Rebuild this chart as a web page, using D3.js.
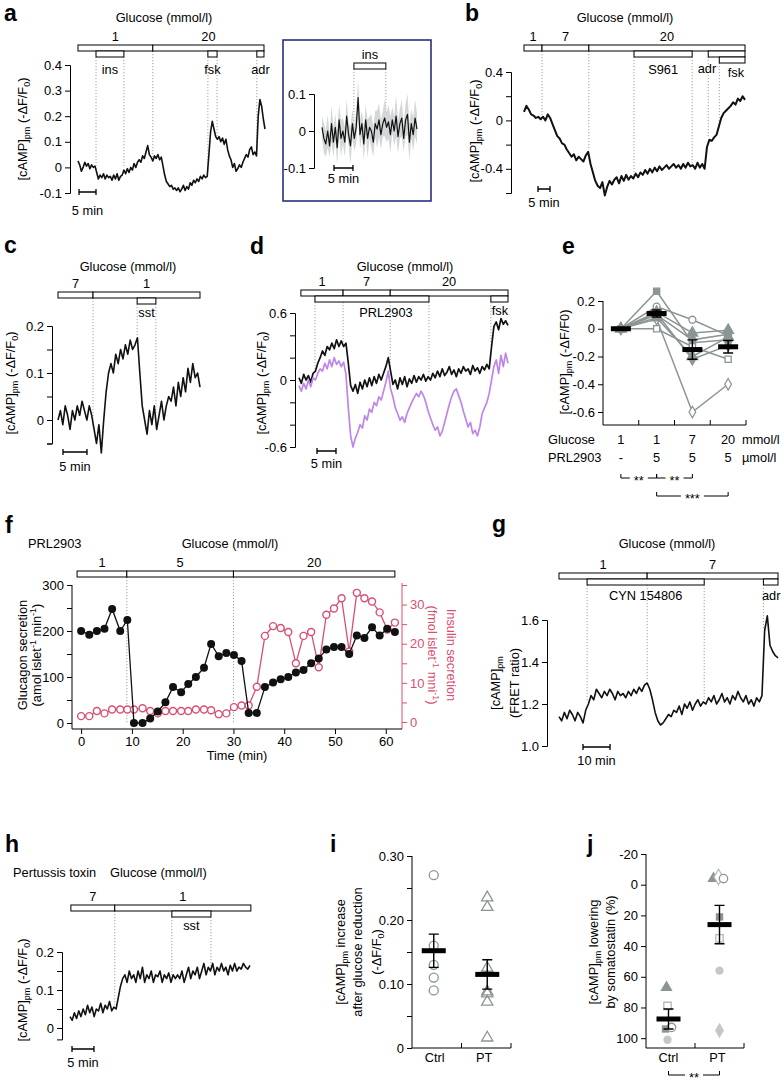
<!DOCTYPE html>
<html><head><meta charset="utf-8">
<script src="https://cdn.jsdelivr.net/npm/d3@7"></script>
<style>body{margin:0;background:#fff}</style>
</head><body>
<script>
// ================= DATA =================
// Panel a: [cAMP]pm trace, 0..55 min
const aTrace = [0.025,0.01,-0.015,0.0,0.02,0.005,0.015,-0.005,0.01,0.0,0.005,
-0.02,-0.045,-0.03,-0.04,-0.025,-0.045,-0.03,-0.04,-0.035,-0.05,-0.03,-0.045,-0.025,-0.05,-0.035,-0.03,
-0.01,-0.025,-0.005,-0.02,0.0,-0.01,0.015,0.0,0.02,0.03,
0.02,0.045,0.035,0.06,0.085,0.05,0.04,0.025,0.045,0.035,0.05,0.03,0.04,
0.005,-0.03,-0.055,-0.065,-0.075,-0.07,-0.085,-0.08,-0.09,-0.08,-0.095,-0.085,-0.07,-0.09,-0.075,-0.085,
-0.06,-0.07,-0.05,-0.06,-0.045,-0.055,-0.035,-0.045,-0.03,-0.04,-0.035,
0.05,0.14,0.18,0.15,0.12,0.11,0.12,0.1,0.115,0.09,0.11,0.07,
0.045,0.03,0.0,0.015,-0.015,-0.005,0.01,0.0,0.02,0.035,0.05,0.04,0.07,0.08,0.05,0.06,0.045,
0.2,0.265,0.24,0.19,0.15];
const aGlucose = [{label:"1",from:0,to:22},{label:"20",from:22,to:54.7}];
const aDrugs = [{label:"ins",from:5.3,to:13.5},{label:"fsk",from:38.2,to:40.9},{label:"adr",from:52.6,to:54.7}];
const aTicks = [-0.1,0,0.1,0.2,0.3,0.4];

// Inset: mean trace and SEM, 0..25 min
const insetMean = [0.01,-0.02,-0.035,0.0,-0.04,0.02,-0.03,0.01,-0.045,0.03,-0.02,0.0,-0.03,0.04,-0.01,-0.04,0.02,-0.02,0.01,0.09,-0.01,0.02,-0.035,0.03,-0.02,0.01,0.0,-0.03,0.02,0.005,0.03,-0.01,0.02,0.035,0.01,0.025,-0.01,0.03,0.0,0.04,-0.015,0.02,0.035,-0.02,0.03,0.045,-0.03,0.02,-0.01,0.035,0.005];
const insetSem = [0.03,0.04,0.035,0.045,0.03,0.05,0.04,0.035,0.045,0.04,0.05,0.035,0.04,0.045,0.03,0.05,0.04,0.035,0.045,0.05,0.04,0.035,0.045,0.04,0.05,0.03,0.045,0.04,0.035,0.05,0.045,0.04,0.035,0.05,0.04,0.045,0.05,0.035,0.04,0.055,0.045,0.04,0.05,0.035,0.045,0.055,0.05,0.04,0.045,0.05,0.04];
const insetDrugs = [{label:"ins",from:8.4,to:16.8}];
const insetTicks = [-0.1,0,0.1];

// Panel b: 0..92 min
const bTrace = [0.07,0.12,0.09,0.05,0.04,0.02,0.03,0.01,0.03,
0.0,0.05,0.02,-0.03,
-0.08,-0.13,-0.15,-0.19,-0.2,-0.24,
-0.27,-0.3,-0.28,-0.33,-0.3,-0.32,-0.34,-0.29,-0.26,
-0.36,-0.43,-0.5,-0.54,-0.56,
-0.51,-0.62,-0.55,-0.5,-0.53,
-0.49,-0.47,-0.52,-0.46,-0.5,-0.45,-0.49,-0.46,-0.48,
-0.44,-0.47,-0.43,-0.45,-0.41,-0.44,-0.4,-0.43,-0.39,-0.42,-0.38,-0.41,-0.39,-0.37,-0.4,-0.38,-0.36,-0.39,-0.37,-0.4,-0.36,-0.39,-0.35,-0.38,
-0.37,-0.4,-0.35,-0.39,-0.36,-0.4,
-0.22,-0.16,-0.17,-0.14,
-0.12,-0.05,0.02,0.06,0.08,0.1,
0.12,0.15,0.13,0.18,0.16,0.2,0.17];
const bGlucose = [{label:"1",from:0,to:7.5},{label:"7",from:7.5,to:27},{label:"20",from:27,to:92}];
const bDrugs = [{label:"S961",from:45.8,to:70,row:1},{label:"adr",from:76.7,to:92,row:1},{label:"fsk",from:81.3,to:92,row:2}];
const bTicks = [-0.6,-0.4,-0.2,0,0.2,0.4];
const bTickLabels = [-0.4,0,0.4];

// Panel c: 0..29.6 min
const cTrace = [0.0,0.02,-0.01,0.03,0.01,-0.02,0.02,0.0,0.03,0.01,0.04,0.02,0.0,0.03,0.01,
-0.02,-0.05,-0.01,-0.07,0.0,
0.06,0.1,0.12,0.1,0.14,0.12,0.15,0.13,0.16,0.14,0.17,0.15,0.16,0.175,
0.1,0.03,
0.0,-0.03,0.02,-0.01,0.03,-0.02,0.01,0.04,0.0,0.03,0.05,
0.04,0.07,0.03,0.08,0.05,0.09,0.06,0.11,0.08,0.12,0.09,0.1,0.07];
const cGlucose = [{label:"7",from:0,to:7.3},{label:"1",from:7.3,to:29.6}];
const cDrugs = [{label:"sst",from:16.5,to:20.4}];
const cTicks = [-0.05,0,0.05,0.1,0.15,0.2];
const cTickLabels = [0,0.1,0.2];

// Panel d: 0..55 min (black and purple cells)
const dBlack = [0.02,-0.03,0.05,0.0,0.04,-0.02,0.06,
0.08,0.15,0.2,0.26,0.22,0.3,0.27,0.33,0.28,0.36,0.3,0.35,
0.3,0.33,0.15,-0.05,
-0.1,-0.04,-0.12,-0.02,-0.08,0.0,-0.06,0.02,-0.05,0.03,-0.03,0.05,0.0,0.06,
0.12,0.2,0.08,
-0.04,0.0,-0.08,0.02,-0.04,0.03,-0.06,0.01,-0.03,0.04,-0.02,0.03,0.0,0.05,-0.01,0.03,
0.0,0.06,0.02,0.08,0.03,0.1,0.04,0.07,0.12,0.05,0.09,0.03,0.1,0.06,0.12,0.08,0.1,0.05,0.13,0.08,0.11,0.06,0.12,0.09,0.14,0.1,
0.3,0.48,0.52,0.45,0.55,0.5,0.53,0.49];
const dPurple = [-0.05,-0.1,-0.03,-0.08,0.0,-0.06,0.02,
0.0,0.06,0.1,0.08,0.15,0.1,0.18,0.12,0.2,0.14,0.17,0.12,
0.16,0.05,-0.25,-0.5,
-0.6,-0.52,-0.47,-0.4,-0.43,-0.32,-0.36,-0.26,-0.29,-0.2,-0.23,-0.15,-0.18,-0.1,
-0.02,0.08,-0.08,
-0.15,-0.25,-0.3,-0.36,-0.33,-0.38,
-0.3,-0.25,-0.2,-0.16,-0.12,-0.15,
-0.1,-0.14,-0.2,-0.28,
-0.34,-0.4,-0.45,-0.42,-0.5,-0.46,
-0.38,-0.3,-0.22,-0.15,-0.1,-0.08,
-0.14,-0.2,-0.28,-0.35,-0.42,-0.38,-0.48,-0.45,
-0.5,-0.42,-0.3,-0.25,-0.2,-0.12,
0.0,0.12,0.18,0.06,0.22,0.12,0.24,0.15];
const dGlucose = [{label:"1",from:0.5,to:11.6},{label:"7",from:11.6,to:24},{label:"20",from:24,to:55}];
const dDrugs = [{label:"PRL2903",from:4.2,to:34.2},{label:"fsk",from:50.5,to:55}];
const dTicks = [-0.6,-0.4,-0.2,0,0.2,0.4,0.6];
const dTickLabels = [-0.6,0,0.6];

// Panel e
const eGlucose = ["1","1","7","20"];
const ePRL = ["-","5","5","5"];
const eCells = [
  [0,0.27,-0.1,-0.08],
  [0,0.16,0.065,-0.05],
  [0,0.0,-0.13,-0.22],
  [0,0.07,-0.6,-0.4],
  [0,0.12,-0.03,-0.01],
  [0,0.1,-0.08,-0.04],
  [0,0.08,-0.2,-0.06],
  [0,0.11,-0.22,-0.12]
];
const eMarkers = [["square",true],["circle",false],["square",false],["diamond",false],["triangle",true],["circle",true],["triangle",true],["diamond",true]];
const eMean = [0,0.11,-0.15,-0.13];
const eSem = [0,0.025,0.07,0.045];
const eTicks = [0.2,0,-0.2,-0.4,-0.6];

// Panel f
const fTime = [0,1.6,3.1,4.6,6.1,7.7,9.1,10.4,12.1,13.6,15.1,16.6,18.1,19.7,21.1,22.6,24.2,25.6,27.1,28.6,30.1,31.6,33.0,34.6,36.2,37.8,39.3,40.8,42.3,43.8,45.3,46.8,48.3,49.8,51.3,52.8,54.3,55.8,57.3,58.8,60.3,61.8];
const fGlucagon = [200,192,200,205,248,200,224,0,0,10,25,45,78,67,85,100,120,172,145,152,148,135,22,22,78,88,95,100,110,115,130,140,160,165,165,150,190,185,208,190,205,198];
const fInsulin = [1.5,1.5,2.8,2.2,3.2,3.2,3.2,3.2,3.5,2.8,2.2,2.8,2.8,2.8,2.8,3.2,3.2,3.0,2.0,2.2,3.8,4.2,4.2,9,22,24.5,24,23,15,22,23,14,27.4,29,31.6,18,33,31.6,30.8,28,23.6,25.4];
const fGlucose = [{label:"1",from:-0.8,to:9},{label:"5",from:9,to:30},{label:"20",from:30,to:61.8}];
const fXTicks = [0,10,20,30,40,50,60];
const fYTicks = [0,50,100,150,200,250,300];
const fY2Ticks = [0,5,10,15,20,25,30,35];

// Panel g: 0..81 min, FRET ratio
const gTrace = [1.14,1.12,1.16,1.13,1.17,1.15,1.12,1.16,1.14,1.11,1.17,
1.2,1.24,1.22,1.27,
1.25,1.23,1.26,1.24,1.27,1.25,1.22,1.26,1.24,1.25,1.23,1.26,1.24,1.27,1.25,1.28,1.26,1.29,
1.3,1.27,1.22,
1.16,1.12,1.1,1.11,1.13,
1.15,1.14,1.17,1.16,1.19,1.15,1.2,1.18,1.21,1.17,1.2,1.22,1.19,1.21,
1.2,1.23,1.21,1.24,1.2,1.22,1.25,1.21,1.23,1.2,1.24,1.22,1.26,1.23,1.21,1.24,1.2,1.22,1.19,1.23,1.21,1.24,
1.55,1.62,1.48,1.45,1.43,1.42];
const gGlucose = [{label:"1",from:0,to:32.6},{label:"7",from:32.6,to:81}];
const gDrugs = [{label:"CYN 154806",from:10.4,to:53.7},{label:"adr",from:75.6,to:81}];
const gTicks = [1.0,1.2,1.4,1.6];

// Panel h: 0..41 min
const hTrace = [0.03,0.02,0.04,0.025,0.045,0.03,0.05,0.035,0.06,0.04,0.055,0.03,0.05,0.045,0.065,0.04,0.06,0.05,0.07,0.045,0.055,
0.05,0.08,0.11,0.13,
0.14,0.12,0.15,0.13,0.14,0.12,0.15,0.13,0.16,0.12,0.14,0.13,0.15,0.12,0.14,0.135,0.15,0.12,0.14,0.13,0.145,0.12,0.14,0.13,
0.14,0.13,0.15,0.12,0.14,0.16,0.13,0.15,0.14,0.16,0.13,0.15,0.17,0.14,0.16,0.15,0.17,0.14,0.16,0.15,0.17,0.15,0.16,0.14,0.165,0.15,0.17,0.15,0.16,0.155,0.17,0.16,0.155,0.165];
const hGlucose = [{label:"7",from:0.2,to:10.2},{label:"1",from:10.2,to:41.2}];
const hDrugs = [{label:"sst",from:23.2,to:32.1}];
const hTicks = [0,0.05,0.1,0.15,0.2];
const hTickLabels = [0,0.1,0.2];

// Panel i
const iGroups = ["Ctrl","PT"];
const iCtrl = [0.27,0.16,0.13,0.11,0.09];
const iPT = [0.235,0.22,0.125,0.088,0.085,0.072,0.016];
const iMean = [0.152,0.115];
const iSem = [0.026,0.023];
const iTicks = [0,0.05,0.1,0.15,0.2,0.25,0.3];

// Panel j
const jGroups = ["Ctrl","PT"];
const jCtrl = [67,79,94,93,101];
const jPT = [-4,-5,-4,21,35,56,95];
const jMean = [87.5,26];
const jSem = [6.5,12.5];
const jTicks = [-20,0,20,40,60,80,100];

// ================= STYLE / HELPERS =================
const GREY = "#8c9595", LGREY = "#c3c9c9", MGREY = "#b4baba";
const PINK = "#d84f72", PURPLE = "#bf86ea";
const FS = 12.8, TICKFS = 13;
const SYM = {circle:d3.symbolCircle, square:d3.symbolSquare, triangle:d3.symbolTriangle, diamond:d3.symbolDiamond};

const svg = d3.select("body").append("svg").attr("width",784).attr("height",1090)
  .attr("font-family","'Liberation Sans', Arial, Helvetica, sans-serif").attr("font-size",FS);

function txt(g,x,y,s,anchor="middle",extra={}) {
  const t = g.append("text").attr("x",x).attr("y",y).attr("text-anchor",anchor).attr("fill",extra.fill||"#000").text(s);
  if (extra.size) t.attr("font-size",extra.size);
  if (extra.weight) t.attr("font-weight",extra.weight);
  return t;
}
function letter(s,x,y){ txt(svg,x,y,s,"start",{size:23,weight:"bold"}); }
function rich(g,x,y,parts,rot=-90,color="#000",anchor="middle") {
  const t = g.append("text").attr("transform",`translate(${x},${y}) rotate(${rot})`).attr("text-anchor",anchor).attr("fill",color);
  let shift = 0;
  parts.forEach(([s,k]) => {
    const target = k==="sub" ? 3 : k==="sup" ? -5 : 0;
    const ts = t.append("tspan").text(s).attr("dy",target-shift);
    if (k) ts.attr("font-size",9);
    shift = target;
  });
}
const CAMP = [["[cAMP]"],["pm","sub"],[" (-ΔF/F"],["0","sub"],[")"]];
function styleAxis(ag,color="#000"){
  ag.attr("font-family",null).attr("font-size",null);
  ag.selectAll("text").attr("fill",color).attr("font-size",TICKFS);
  ag.selectAll("path,line").attr("stroke",color);
}
const fmtNum = d => Math.abs(d)<1e-9 ? "0" : String(+d.toFixed(2));
function bracket(g,x1,x2,y,label){
  const w = label.length*5+8, cx=(x1+x2)/2;
  g.append("path").attr("d",`M${x1},${y-4}V${y}H${cx-w/2}M${cx+w/2},${y}H${x2}V${y-4}`)
    .attr("fill","none").attr("stroke","#000").attr("stroke-width",1);
  txt(g,cx,y+7,label);
}

function tracePanel(c){
  const g = svg.append("g");
  const x = d3.scaleLinear().domain([0,c.dur]).range(c.xr);
  const y = d3.scaleLinear().domain(c.yd).range(c.yr);
  const rowY = r => c.barTop + r*6;
  c.marks.forEach(t => {
    const v = d3.max(c.series, s => s.values[Math.round(t/c.dur*(s.values.length-1))] + (s.sem ? s.sem[Math.round(t/c.dur*(s.sem.length-1))] : 0));
    g.append("line").attr("x1",x(t)).attr("x2",x(t)).attr("y1",rowY(0)+6).attr("y2",y(v)-2)
      .attr("stroke","#888").attr("stroke-width",0.8).attr("stroke-dasharray","1.2,1.8");
  });
  c.bars.forEach(b => {
    g.append("rect").attr("x",x(b.from)).attr("y",rowY(b.row)).attr("width",x(b.to)-x(b.from)).attr("height",6)
      .attr("fill","#fff").attr("stroke","#000").attr("stroke-width",1);
    const p = (c.labelPos && c.labelPos[b.label]) || {};
    const lx = p.x!==undefined ? p.x : (x(b.from)+x(b.to))/2;
    const ly = p.y!==undefined ? p.y : (b.row===0 ? rowY(0)-4 : rowY(b.row)+6+c.labelDy);
    txt(g,lx,ly,b.label,p.anchor||"middle");
  });
  if (c.title) txt(g,c.title[0],c.title[1],"Glucose (mmol/l)");
  const ax = d3.axisLeft(y).tickValues(c.ticks).tickSize(5).tickSizeOuter(5).tickPadding(3)
    .tickFormat(d => c.labeled.some(l=>Math.abs(l-d)<1e-9) ? (c.fmt||fmtNum)(d) : "");
  styleAxis(g.append("g").attr("transform",`translate(${c.axisX},0)`).call(ax));
  c.series.forEach(s => {
    const n = s.values.length, tt = i => i*c.dur/(n-1);
    if (s.sem) {
      g.append("path").datum(s.values).attr("fill","#d3d7d7")
        .attr("d", d3.area().x((d,i)=>x(tt(i))).y0((d,i)=>y(d-s.sem[Math.min(i,s.sem.length-1)])).y1((d,i)=>y(d+s.sem[Math.min(i,s.sem.length-1)])));
    }
    g.append("path").datum(s.values).attr("fill","none").attr("stroke",s.color).attr("stroke-width",s.width||1.6)
      .attr("stroke-linejoin","round").attr("d", d3.line().x((d,i)=>x(tt(i))).y(d=>y(d)));
  });
  const sb = c.scaleBar, len = x(sb.min)-x(0);
  g.append("path").attr("d",`M${sb.x},${sb.y-3}V${sb.y+3}M${sb.x},${sb.y}H${sb.x+len}M${sb.x+len},${sb.y-3}V${sb.y+3}`)
    .attr("stroke","#000").attr("stroke-width",1.3).attr("fill","none");
  txt(g,sb.x+len/2,sb.ty,sb.min+" min");
  (c.ylab||[]).forEach(l => rich(g,l[0],l[1],l[2]));
  return g;
}
const withRow = (arr,row) => arr.map(d => Object.assign({row:d.row!==undefined?d.row:row},d));

// ================= PANEL a =================
letter("a",4,21);
tracePanel({xr:[78,265],dur:55,yd:[-0.1,0.4],yr:[193,65],axisX:70,ticks:aTicks,labeled:aTicks,
  barTop:45,bars:[...withRow(aGlucose,0),...withRow(aDrugs,1)],labelDy:17,title:[164,22],
  marks:[5.3,13.5,22,38.2,40.9,52.6],series:[{values:aTrace,color:"#111"}],
  scaleBar:{x:79,y:192,min:5,ty:215},ylab:[[27,129,CAMP]]});

// ================= INSET =================
svg.append("rect").attr("x",283).attr("y",40).attr("width",148).attr("height",161)
  .attr("fill","none").attr("stroke","#2b2e83").attr("stroke-width",1.6);
tracePanel({xr:[322,417],dur:25,yd:[-0.1,0.1],yr:[168,94],axisX:314,ticks:insetTicks,labeled:insetTicks,
  barTop:63,bars:withRow(insetDrugs,0),labelDy:15,
  marks:[8.4,16.8],series:[{values:insetMean,sem:insetSem,color:"#111",width:1.2}],
  scaleBar:{x:334,y:168,min:5,ty:183}});

// ================= PANEL b =================
letter("b",465,21);
tracePanel({xr:[524,745],dur:92,yd:[-0.6,0.4],yr:[193,72],axisX:511,ticks:bTicks,labeled:bTickLabels,
  barTop:45,bars:[...withRow(bGlucose,0),...withRow(bDrugs,1)],labelDy:17,title:[625,22],
  labelPos:{"adr":{x:707,y:73},"fsk":{x:736,y:77}},
  marks:[7.5,27,45.8,70,76.7,81.3],series:[{values:bTrace,color:"#111",width:2}],
  scaleBar:{x:538,y:189,min:5,ty:207},ylab:[[479,131,CAMP]]});

// ================= PANEL c =================
letter("c",4,253);
tracePanel({xr:[58,200],dur:29.6,yd:[-0.05,0.2],yr:[443.5,326],axisX:52,ticks:cTicks,labeled:cTickLabels,
  barTop:292,bars:[...withRow(cGlucose,0),...withRow(cDrugs,1)],labelDy:13,title:[128,271],
  marks:[7.3,16.5,20.4],series:[{values:cTrace,color:"#111"}],
  scaleBar:{x:63,y:452,min:5,ty:471},ylab:[[15,383,CAMP]]});

// ================= PANEL d =================
letter("d",250,254);
tracePanel({xr:[299,508],dur:55,yd:[-0.6,0.6],yr:[447,313],axisX:295,ticks:dTicks,labeled:dTickLabels,
  barTop:290,bars:[...withRow(dGlucose,0),...withRow(dDrugs,1)],labelDy:15,title:[405,271],
  labelPos:{"PRL2903":{x:386},"fsk":{x:500,y:315}},
  marks:[4.2,11.6,24,34.2,50.5],series:[{values:dBlack,color:"#111",width:1.7},{values:dPurple,color:PURPLE,width:1.7}],
  scaleBar:{x:317,y:451,min:5,ty:468},ylab:[[266,383,CAMP]]});

// ================= PANEL e =================
(function(){
  letter("e",562,254);
  const g = svg.append("g");
  const x = d3.scalePoint().domain(d3.range(eGlucose.length)).range([603,746]).padding(0.5);
  const y = d3.scaleLinear().domain([-0.6,0.2]).range([412,301]);
  const ax = d3.axisLeft(y).tickValues(eTicks).tickSize(5).tickSizeOuter(0).tickPadding(3).tickFormat(fmtNum);
  const ag = g.append("g").attr("transform","translate(603,0)").call(ax); styleAxis(ag); ag.select(".domain").remove();
  g.append("path").attr("d","M603,301V425H746").attr("fill","none").attr("stroke","#000");
  const st = x.step();
  eGlucose.forEach((d,i)=> g.append("line").attr("x1",x(i)+st/2).attr("x2",x(i)+st/2).attr("y1",425).attr("y2",420).attr("stroke","#000"));
  eCells.forEach(cell => {
    g.append("path").datum(cell).attr("fill","none").attr("stroke",GREY).attr("stroke-width",1.5)
      .attr("d",d3.line().x((d,i)=>x(i)).y(d=>y(d)));
  });
  eCells.forEach((cell,k) => {
    const [shape,filled] = eMarkers[k];
    cell.forEach((v,i)=> g.append("path").attr("transform",`translate(${x(i)},${y(v)})`)
      .attr("d",d3.symbol().type(SYM[shape]).size(shape==="triangle"?50:38)())
      .attr("fill",filled?GREY:"#fff").attr("stroke",GREY).attr("stroke-width",1.3));
  });
  eMean.forEach((m,i)=>{
    if (eSem[i]>0) {
      g.append("path").attr("d",`M${x(i)},${y(m+eSem[i])}V${y(m-eSem[i])}M${x(i)-5},${y(m+eSem[i])}H${x(i)+5}M${x(i)-5},${y(m-eSem[i])}H${x(i)+5}`)
        .attr("stroke","#000").attr("stroke-width",1.4).attr("fill","none");
    }
    g.append("rect").attr("x",x(i)-10).attr("y",y(m)-2.5).attr("width",20).attr("height",5).attr("fill","#000");
  });
  txt(g,548,444,"Glucose","start"); txt(g,548,462,"PRL2903","start");
  eGlucose.forEach((d,i)=>txt(g,x(i),444,d)); ePRL.forEach((d,i)=>txt(g,x(i),462,d));
  txt(g,742,444,"mmol/l","start"); txt(g,742,462,"µmol/l","start");
  bracket(g,x(0),x(1),478,"**"); bracket(g,x(1),x(2),478,"**"); bracket(g,x(1),x(3),496,"***");
  rich(g,569,362,[["[cAMP]"],["pm","sub"],[" (-ΔF/F0)"]]);
})();

// ================= PANEL f =================
(function(){
  letter("f",5,533);
  const g = svg.append("g");
  const x = d3.scaleLinear().domain([-1.8,63.2]).range([72,402]);
  const yL = d3.scaleLinear().domain([0,300]).range([723,585]);
  const yR = d3.scaleLinear().domain([0,35]).range([722,585]);
  txt(g,28,548,"PRL2903","start"); txt(g,230,548,"Glucose (mmol/l)");
  [9,30].forEach(t => g.append("line").attr("x1",x(t)).attr("x2",x(t)).attr("y1",577).attr("y2",723)
      .attr("stroke","#888").attr("stroke-width",0.8).attr("stroke-dasharray","1.2,1.8"));
  fGlucose.forEach(b => {
    g.append("rect").attr("x",x(b.from)).attr("y",571).attr("width",x(b.to)-x(b.from)).attr("height",6)
      .attr("fill","#fff").attr("stroke","#000");
    txt(g,(x(b.from)+x(b.to))/2,567,b.label);
  });
  const axL = d3.axisLeft(yL).tickValues(fYTicks).tickSize(5).tickSizeOuter(0).tickPadding(3)
    .tickFormat(d => d%100===0 ? d : "");
  const agL = g.append("g").attr("transform","translate(72,0)").call(axL); styleAxis(agL); agL.select(".domain").remove();
  const axR = d3.axisRight(yR).tickValues(fY2Ticks).tickSize(5).tickSizeOuter(0).tickPadding(3)
    .tickFormat(d => d%10===0 ? d : "");
  const agR = g.append("g").attr("transform","translate(402,0)").call(axR); styleAxis(agR,PINK); agR.select(".domain").remove();
  g.append("line").attr("x1",402).attr("x2",402).attr("y1",583).attr("y2",729).attr("stroke",PINK);
  g.append("path").attr("d","M72,585V729H402").attr("fill","none").attr("stroke","#000");
  const axB = d3.axisBottom(x).tickValues(fXTicks).tickSize(5).tickSizeOuter(0).tickPadding(3);
  const agB = g.append("g").attr("transform","translate(0,729)").call(axB); styleAxis(agB); agB.select(".domain").remove();
  txt(g,237,760,"Time (min)");
  g.append("path").datum(fInsulin).attr("fill","none").attr("stroke",PINK).attr("stroke-width",1.3)
    .attr("d",d3.line().x((d,i)=>x(fTime[i])).y(d=>yR(d)));
  fInsulin.forEach((v,i)=>g.append("circle").attr("cx",x(fTime[i])).attr("cy",yR(v)).attr("r",3.5)
    .attr("fill","#fff").attr("stroke",PINK).attr("stroke-width",1.4));
  g.append("path").datum(fGlucagon).attr("fill","none").attr("stroke","#111").attr("stroke-width",1.3)
    .attr("d",d3.line().x((d,i)=>x(fTime[i])).y(d=>yL(d)));
  fGlucagon.forEach((v,i)=>g.append("circle").attr("cx",x(fTime[i])).attr("cy",yL(v)).attr("r",4).attr("fill","#111"));
  rich(g,27,655,[["Glucagon secretion"]]);
  rich(g,41,655,[["(amol islet"],["-1","sup"],[" min"],["-1","sup"],[")"]]);
  rich(g,447,655,[["Insulin secretion"]],90,PINK);
  rich(g,428,655,[["(fmol islet"],["-1","sup"],[" mni"],["-1","sup"],[")"]],90,PINK);
})();

// ================= PANEL g =================
letter("g",492,532);
tracePanel({xr:[559,778],dur:81,yd:[1.0,1.6],yr:[746,620],axisX:547,ticks:gTicks,labeled:gTicks,fmt:d3.format(".1f"),
  barTop:573,bars:[...withRow(gGlucose,0),...withRow(gDrugs,1)],labelDy:15,title:[667,548],
  labelPos:{"adr":{x:762,anchor:"start"}},
  marks:[10.4,32.6,53.7,75.6],series:[{values:gTrace,color:"#111"}],
  scaleBar:{x:583,y:747,min:10,ty:765},
  ylab:[[500,683,[["[cAMP]"],["pm","sub"]]],[519,683,[["(FRET ratio)"]]]]});

// ================= PANEL h =================
letter("h",5,852);
const hg = tracePanel({xr:[70,250],dur:41,yd:[-0.03,0.2],yr:[1039.4,952],axisX:62,ticks:hTicks,labeled:hTickLabels,
  barTop:905,bars:[...withRow(hGlucose,0),...withRow(hDrugs,1)],labelDy:13,
  marks:[10.2,23.2,32.1],series:[{values:hTrace,color:"#111"}],
  scaleBar:{x:72,y:1049,min:5,ty:1067},ylab:[[27,990,CAMP]]});
txt(hg,13,877,"Pertussis toxin","start"); txt(hg,110,877,"Glucose (mmol/l)","start");

// ================= PANEL i =================
(function(){
  letter("i",330,852);
  const g = svg.append("g");
  const x = d3.scalePoint().domain(iGroups).range([412,511]).padding(0.5);
  const y = d3.scaleLinear().domain([0,0.3]).range([1048,856]);
  const ax = d3.axisLeft(y).tickValues(iTicks).tickSize(5).tickSizeOuter(0).tickPadding(3)
    .tickFormat(d => Math.abs(d)<1e-9 ? "0" : (Math.round(d*100)%10===0 ? d3.format(".2f")(d) : ""));
  const ag = g.append("g").attr("transform","translate(412,0)").call(ax); styleAxis(ag); ag.select(".domain").remove();
  g.append("path").attr("d","M412,856V1048H511").attr("fill","none").attr("stroke","#000");
  [x.step(), x.step()*2].forEach(o=>g.append("line").attr("x1",412+o).attr("x2",412+o).attr("y1",1048).attr("y2",1043).attr("stroke","#000"));
  iGroups.forEach(d=>txt(g,x(d)-2,1062,d));
  iCtrl.forEach(v=>g.append("circle").attr("cx",x("Ctrl")-3).attr("cy",y(v)).attr("r",4.5).attr("fill","none").attr("stroke",GREY).attr("stroke-width",1.3));
  iPT.forEach(v=>g.append("path").attr("transform",`translate(${x("PT")+1},${y(v)})`).attr("d",d3.symbol().type(d3.symbolTriangle).size(55)())
    .attr("fill","none").attr("stroke",GREY).attr("stroke-width",1.3));
  iGroups.forEach((k,i)=>{
    const cx = x(k)+(i?1:-3), m=iMean[i], s=iSem[i];
    g.append("path").attr("d",`M${cx},${y(m+s)}V${y(m-s)}M${cx-5},${y(m+s)}H${cx+5}M${cx-5},${y(m-s)}H${cx+5}`)
      .attr("stroke","#000").attr("stroke-width",1.4).attr("fill","none");
    g.append("rect").attr("x",cx-12).attr("y",y(m)-2.5).attr("width",24).attr("height",5).attr("fill","#000");
  });
  rich(g,345,952,[["[cAMP]"],["pm","sub"],[" increase"]]);
  rich(g,362,952,[["after glucose reduction"]]);
  rich(g,381,952,[["(-ΔF/F"],["0","sub"],[")"]]);
})();

// ================= PANEL j =================
(function(){
  letter("j",587,852);
  const g = svg.append("g");
  const x = d3.scalePoint().domain(jGroups).range([646,744]).padding(0.5);
  const y = d3.scaleLinear().domain([-20,106.4]).range([854,1048]);
  const ax = d3.axisLeft(y).tickValues(jTicks).tickSize(5).tickSizeOuter(0).tickPadding(3).tickFormat(d=>String(d));
  const ag = g.append("g").attr("transform","translate(646,0)").call(ax); styleAxis(ag); ag.select(".domain").remove();
  g.append("path").attr("d","M646,854V1048H744").attr("fill","none").attr("stroke","#000");
  [x.step(), x.step()*2].forEach(o=>g.append("line").attr("x1",646+o).attr("x2",646+o).attr("y1",1048).attr("y2",1043).attr("stroke","#000"));
  jGroups.forEach(d=>txt(g,x(d)-2,1062,d));
  const ctrlStyle = [["triangle",GREY,"none",-2],["square","#fff",MGREY,-1],["square",GREY,"none",-3],["circle","#fff",GREY,3],["circle",LGREY,"none",-1]];
  const ptStyle = [["triangle",GREY,"none",-6],["diamond","#fff",MGREY,-1],["circle","#fff",GREY,4],["square",GREY,"none",0],["square","#fff",MGREY,0],["circle",LGREY,"none",0],["diamond",LGREY,"none",0]];
  const mk = (v,st,cx) => g.append("path").attr("transform",`translate(${cx+st[3]},${y(v)})`)
      .attr("d",d3.symbol().type(SYM[st[0]]).size(st[0]==="triangle"?65:st[0]==="diamond"?70:55)())
      .attr("fill",st[1]).attr("stroke",st[2]).attr("stroke-width",1.3);
  jCtrl.forEach((v,i)=>mk(v,ctrlStyle[i],x("Ctrl")-2));
  jPT.forEach((v,i)=>mk(v,ptStyle[i],x("PT")));
  jGroups.forEach((k,i)=>{
    const cx = x(k)-(i?0:2), m=jMean[i], s=jSem[i];
    g.append("path").attr("d",`M${cx},${y(m-s)}V${y(m+s)}M${cx-5},${y(m-s)}H${cx+5}M${cx-5},${y(m+s)}H${cx+5}`)
      .attr("stroke","#000").attr("stroke-width",1.4).attr("fill","none");
    g.append("rect").attr("x",cx-12).attr("y",y(m)-2.5).attr("width",24).attr("height",5).attr("fill","#000");
  });
  bracket(g,x("Ctrl")-2,x("PT"),1075,"**");
  rich(g,598,952,[["[cAMP]"],["pm","sub"],[" lowering"]]);
  rich(g,615,952,[["by somatostatin (%)"]]);
})();
</script></body></html>
